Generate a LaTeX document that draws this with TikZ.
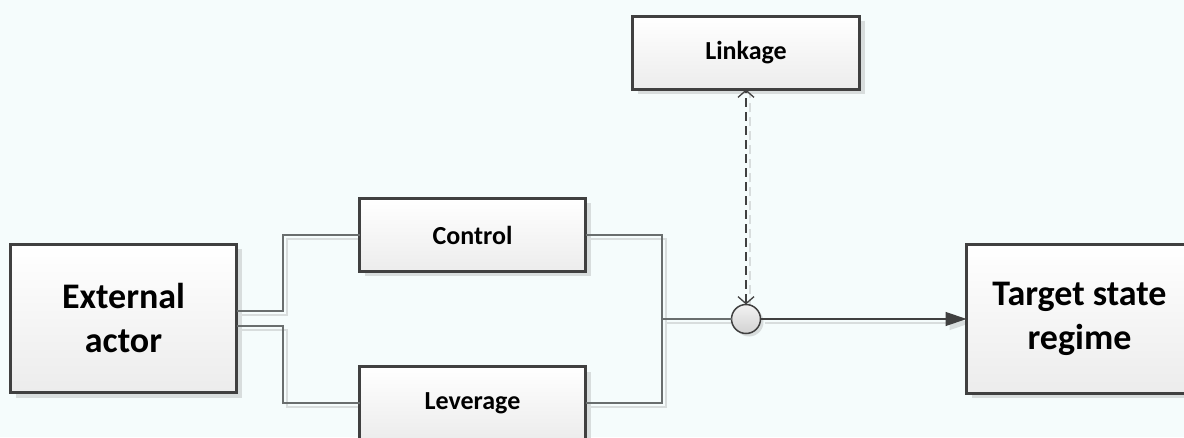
\documentclass[tikz,border=0pt]{standalone}
\usepackage{fontspec}
\setmainfont{Carlito}
\usetikzlibrary{arrows.meta,shadows,calc}
\pgfdeclarelayer{backlayer}
\pgfdeclarelayer{shadowlayer}
\pgfsetlayers{backlayer,shadowlayer,main}
\definecolor{bgc}{RGB}{245,252,252}
\definecolor{boxline}{RGB}{64,64,64}
\definecolor{conngray}{RGB}{105,110,110}
\definecolor{shadowgray}{RGB}{216,221,221}
\definecolor{boxbottom}{RGB}{236,236,236}
\definecolor{circtop}{RGB}{242,242,242}
\definecolor{circbot}{RGB}{210,210,210}
\newcommand\drawconnectors{%
  \draw[conn] ([yshift=7.5pt]ext.east) -- ([yshift=7.5pt]ext.east -| bl) |- (ctrl.west);
  \draw[conn] ([yshift=-7.5pt]ext.east) -- ([yshift=-7.5pt]ext.east -| bl) |- (lev.west);
  \draw[conn] (ctrl.east) -- (ctrl.east -| br) |- (junc.west);
  \draw[conn] (lev.east) -- (lev.east -| br) |- (junc.west);
  \draw[arrowline] (junc.east) -- (tgt.west);
  \draw[dasharrow] (junc.north) -- (link.south);
}
\begin{document}
\begin{tikzpicture}[x=1pt,y=1pt,
  boxbase/.style={draw=boxline, line width=3pt, top color=white, bottom color=boxbottom,
    inner sep=0pt, outer sep=0pt, align=center,
    drop shadow={shadow xshift=5pt, shadow yshift=-5pt, fill=shadowgray, draw=none, opacity=1}},
  smallbox/.style={boxbase, minimum width=226pt, minimum height=73pt,
    font=\fontsize{26}{30}\selectfont\bfseries},
  bigbox/.style={boxbase, minimum width=226pt, minimum height=148pt,
    font=\fontsize{36}{44}\selectfont\bfseries},
  junction/.style={circle, draw=boxline, line width=1.5pt, top color=circtop, bottom color=circbot,
    minimum size=29pt, inner sep=0pt, outer sep=0pt,
    drop shadow={shadow xshift=3pt, shadow yshift=-3pt, fill=shadowgray, draw=none, opacity=1}},
  conn/.style={draw=conngray, line width=1.4pt},
  arrowline/.style={draw=boxline, line width=1.3pt, -{Triangle[length=21pt,width=14pt]}},
  dasharrow/.style={draw=boxline, line width=1.3pt, dash pattern=on 9pt off 5pt,
    {Straight Barb[length=7pt,width=16pt]}-{Straight Barb[length=7pt,width=16pt]}},
]
\useasboundingbox (0,0) rectangle (1184,437);
\clip (0,0) rectangle (1184,437);
\begin{pgfonlayer}{backlayer}
  \fill[bgc] (0,0) rectangle (1184,437);
\end{pgfonlayer}

\coordinate (bl) at (283,0);
\coordinate (br) at (662,0);

\node[bigbox] (ext) at (123.5,118.5) {External\\actor};
\node[smallbox] (ctrl) at (472.5,202) {Control};
\node[smallbox] (lev) at (472.5,34) {Leverage};
\node[smallbox, minimum width=227pt] (link) at (746,384) {Linkage};
\node[bigbox] (tgt) at (1079.5,118) {Target state\\regime};
\node[junction] (junc) at (746,118) {};

\begin{pgfonlayer}{shadowlayer}
\begin{scope}[transform canvas={shift={(4pt,-4pt)}},
  conn/.style={draw=shadowgray, line width=1.4pt},
  arrowline/.style={draw=shadowgray, line width=1.3pt, -{Triangle[length=21pt,width=14pt]}},
  dasharrow/.style={draw=shadowgray, line width=1.3pt, dash pattern=on 9pt off 5pt}]
  \drawconnectors
\end{scope}
\end{pgfonlayer}

\drawconnectors
\end{tikzpicture}
\end{document}
